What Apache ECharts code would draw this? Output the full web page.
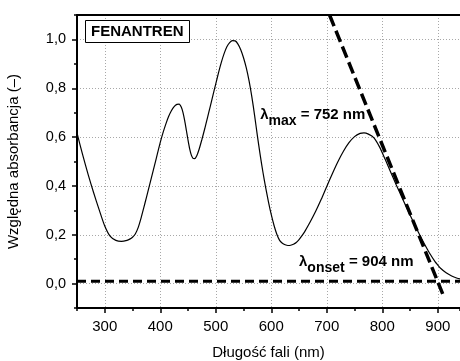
<!DOCTYPE html>
<html><head><meta charset="utf-8">
<script src="https://cdn.jsdelivr.net/npm/echarts@6/dist/echarts.min.js"></script>
<style>html,body{margin:0;padding:0;background:#fff}#c{width:460px;height:361px}</style>
</head><body><div id="c"></div>
<script>
// ---- data ----
const wavelength = [250,260,270,280,290,300,310,320,330,340,345,350,355,360,365,370,375,380,385,390,395,400,405,410,415,420,425,430,434,438,441,444,447,450,453,456,459,462,466,470,475,480,485,490,495,500,505,510,515,520,525,530,535,540,545,550,555,560,565,570,575,580,585,590,595,600,605,610,615,620,625,630,635,640,645,650,655,660,670,680,690,700,710,720,730,740,750,760,767,775,785,795,805,815,825,835,845,855,865,875,885,895,900,905,915,925,935,940];
const absorbance = [0.617,0.529,0.447,0.372,0.302,0.236,0.193,0.177,0.173,0.177,0.182,0.190,0.203,0.228,0.265,0.308,0.352,0.397,0.442,0.487,0.533,0.578,0.618,0.653,0.684,0.708,0.725,0.734,0.735,0.722,0.700,0.667,0.628,0.588,0.552,0.526,0.513,0.512,0.525,0.550,0.590,0.633,0.679,0.725,0.772,0.818,0.864,0.906,0.942,0.970,0.987,0.995,0.994,0.981,0.958,0.925,0.883,0.830,0.765,0.688,0.605,0.527,0.456,0.392,0.334,0.282,0.238,0.202,0.177,0.165,0.159,0.156,0.157,0.161,0.168,0.180,0.195,0.212,0.252,0.296,0.345,0.398,0.450,0.499,0.542,0.577,0.602,0.615,0.617,0.612,0.597,0.560,0.510,0.457,0.405,0.355,0.305,0.257,0.210,0.166,0.125,0.090,0.076,0.063,0.044,0.031,0.022,0.019];
const tangentX = [705, 912];
const tangentY = [1.1, -0.06];
const baselineX = [250, 940];
const baselineY = [0.01, 0.01];
const xTicks = [300,400,500,600,700,800,900];
const yTicks = [0,0.2,0.4,0.6,0.8,1.0];
const sampleName = 'FENANTREN';
const lambdaMax = 752;
const lambdaOnset = 904;
const xName = 'Długość fali (nm)';
const yName = 'Względna absorbancja (–)';

// ---- chart ----
const FONT = "'Liberation Sans', Arial, sans-serif";
const chart = echarts.init(document.getElementById('c'), null, {renderer:'canvas'});
const axisCol = '#000';
const gridLine = {show:true, lineStyle:{color:'#a8a8a8', width:1, type:[1,2]}};
const labRich = {
  l:{fontSize:15, fontWeight:'bold', color:'#000', fontFamily:FONT, padding:[0,0,6,0]},
  s:{fontSize:14, fontWeight:'bold', color:'#000', fontFamily:FONT, padding:[6,0,0,0]},
  m:{fontSize:15, fontWeight:'bold', color:'#000', fontFamily:FONT, padding:[0,0,6,0]}
};
chart.setOption({
  animation:false,
  backgroundColor:'#fff',
  textStyle:{fontFamily:FONT},
  title:{text:sampleName, left:85, top:20, padding:[3,6], borderColor:'#000', borderWidth:1,
    backgroundColor:'#fff', textStyle:{fontSize:15, fontWeight:'bold', color:'#000', lineHeight:17, fontFamily:FONT}},
  grid:{left:77, right:0, top:15, bottom:53, containLabel:false, outerBoundsMode:'none'},
  xAxis:[
    {type:'value', min:250, max:940, interval:50, position:'bottom',
     axisLine:{show:true, onZero:false, lineStyle:{color:axisCol, width:2}},
     axisTick:{show:true, customValues:xTicks, length:5, lineStyle:{color:axisCol, width:1.5}},
     axisLabel:{customValues:xTicks, fontSize:15, color:'#000', margin:11, fontFamily:FONT},
     splitLine:gridLine,
     name:xName, nameLocation:'middle', nameGap:37, nameTextStyle:{fontSize:15, color:'#000', fontFamily:FONT}},
    {type:'value', min:250, max:940, interval:50, position:'bottom',
     axisLine:{show:false, onZero:false}, axisTick:{show:true, length:3, lineStyle:{color:axisCol, width:1.5}},
     axisLabel:{show:false}, splitLine:{show:false}},
    {type:'value', min:250, max:940, interval:50, position:'top',
     axisLine:{show:true, onZero:false, lineStyle:{color:axisCol, width:2}}, axisTick:{show:false},
     axisLabel:{show:false}, splitLine:{show:false}}
  ],
  yAxis:[
    {type:'value', min:-0.1, max:1.1, interval:0.1, position:'left',
     axisLine:{show:true, onZero:false, lineStyle:{color:axisCol, width:2}},
     axisTick:{show:true, customValues:yTicks, length:5, lineStyle:{color:axisCol, width:1.5}},
     axisLabel:{customValues:yTicks, fontSize:14.5, color:'#000', margin:11, fontFamily:FONT,
       formatter:v=>v.toFixed(1).replace('.', ',')},
     splitLine:gridLine,
     name:yName, nameLocation:'middle', nameGap:56, nameRotate:90, nameTextStyle:{fontSize:15, color:'#000', fontFamily:FONT}},
    {type:'value', min:-0.1, max:1.1, interval:0.1, position:'left',
     axisLine:{show:false, onZero:false}, axisTick:{show:true, length:3, lineStyle:{color:axisCol, width:1.5}},
     axisLabel:{show:false}, splitLine:{show:false}}
  ],
  series:[
    {type:'line', xAxisIndex:0, yAxisIndex:0, data:wavelength.map((w,i)=>[w, absorbance[i]]),
     symbol:'none', smooth:0.25, lineStyle:{color:'#000', width:1.2}, z:3,
     markPoint:{symbol:'circle', symbolSize:0, silent:true,
       data:[
         {coord:[580, 0.677], label:{show:true, position:'right', distance:0,
           formatter:'{l|λ}{s|max}{m| = ' + lambdaMax + ' nm}', rich:labRich}},
         {coord:[650, 0.076], label:{show:true, position:'right', distance:0,
           formatter:'{l|λ}{s|onset}{m| = ' + lambdaOnset + ' nm}', rich:labRich}}
       ]}},
    {type:'line', xAxisIndex:0, yAxisIndex:0, data:baselineX.map((x,i)=>[x, baselineY[i]]),
     symbol:'none', lineStyle:{color:'#000', width:3, type:[9,5]}, z:4},
    {type:'line', xAxisIndex:0, yAxisIndex:0, data:tangentX.map((x,i)=>[x, tangentY[i]]),
     symbol:'none', lineStyle:{color:'#000', width:3.5, type:[12,5]}, z:4}
  ]
});
</script></body></html>
